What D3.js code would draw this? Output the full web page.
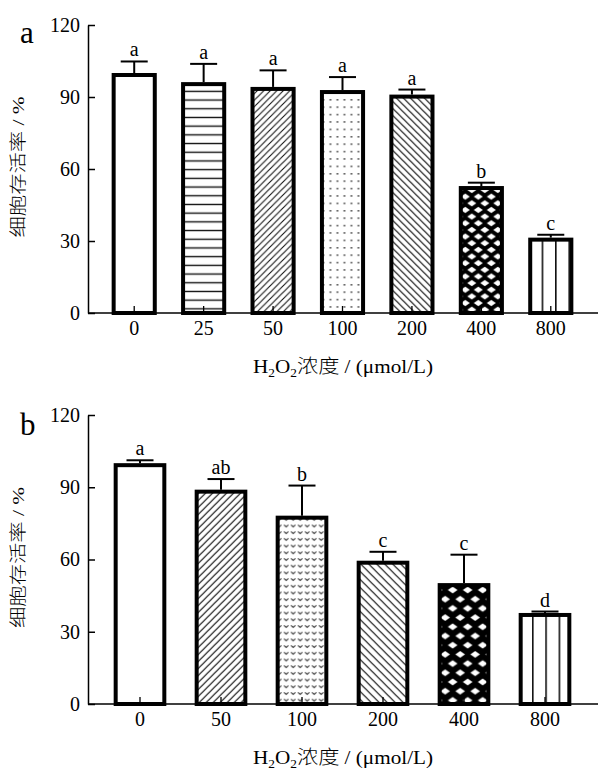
<!DOCTYPE html>
<html>
<head>
<meta charset="utf-8">
<script src="https://cdn.jsdelivr.net/npm/d3@7"></script>
<style>
  body { margin: 0; background: #fff; }
  svg { display: block; }
  .serif { font-family: "Liberation Serif", "Times New Roman", serif; }
  .cjk { font-family: "Noto Sans CJK SC", sans-serif; font-weight: 300; }
</style>
</head>
<body>
<div id="chart"></div>
<script>
// panel a: H2O2 concentrations
const catsA = ['0', '25', '50', '100', '200', '400', '800'];
const meansA = [100, 96.2, 94.2, 92.9, 91, 52.9, 31.4];
const sdsA = [4.8, 7.6, 6.9, 5.4, 2.1, 1.4, 1.2];
const lettersA = ['a', 'a', 'a', 'a', 'a', 'b', 'c'];
const fillsA = ['none', 'hline', 'fwd', 'dots', 'back', 'cross', 'vline'];

// panel b
const catsB = ['0', '50', '100', '200', '400', '800'];
const meansB = [100, 89, 78.2, 59.5, 50.2, 37.8];
const sdsB = [1.2, 4.4, 12.5, 3.7, 11.8, 0.6];
const lettersB = ['a', 'ab', 'b', 'c', 'c', 'd'];
const fillsB = ['none', 'fwd', 'chev', 'back', 'cross', 'vline'];

const yTicks = [0, 30, 60, 90, 120];

const W = 599, H = 771;
const axisX = 88;
const svg = d3.select('#chart').append('svg').attr('width', W).attr('height', H);
const defs = svg.append('defs');

function makePattern(id, kind, x0, opt) {
  const ink = '#111';
  let p;
  if (kind === 'hline') {
    p = defs.append('pattern').attr('id', id).attr('patternUnits', 'userSpaceOnUse')
      .attr('x', x0).attr('y', 0).attr('width', 10).attr('height', opt.gap);
    p.append('rect').attr('width', 10).attr('height', opt.gap).attr('fill', '#fff');
    p.append('line').attr('x1', 0).attr('x2', 10).attr('y1', opt.gap / 2).attr('y2', opt.gap / 2)
      .attr('stroke', ink).attr('stroke-width', 1.4);
  } else if (kind === 'fwd' || kind === 'back') {
    const g = opt.gap;
    p = defs.append('pattern').attr('id', id).attr('patternUnits', 'userSpaceOnUse')
      .attr('x', x0).attr('y', 0).attr('width', g).attr('height', g);
    p.append('rect').attr('width', g).attr('height', g).attr('fill', '#fff');
    const d = kind === 'fwd'
      ? `M0,${g}L${g},0M${-1},1L1,${-1}M${g - 1},${g + 1}L${g + 1},${g - 1}`
      : `M0,0L${g},${g}M${-1},${g - 1}L1,${g + 1}M${g - 1},${-1}L${g + 1},1`;
    p.append('path').attr('d', d).attr('stroke', ink).attr('stroke-width', opt.lw || 1.2);
  } else if (kind === 'dots') {
    p = defs.append('pattern').attr('id', id).attr('patternUnits', 'userSpaceOnUse')
      .attr('x', x0).attr('y', 0).attr('width', 7).attr('height', 7.4);
    p.append('rect').attr('width', 7).attr('height', 7.4).attr('fill', '#fff');
    p.append('rect').attr('x', 2.5).attr('y', 3).attr('width', 2).attr('height', 1.2).attr('fill', '#333');
  } else if (kind === 'chev') {
    p = defs.append('pattern').attr('id', id).attr('patternUnits', 'userSpaceOnUse')
      .attr('x', x0).attr('y', 0).attr('width', 7).attr('height', 6.7);
    p.append('rect').attr('width', 7).attr('height', 6.7).attr('fill', '#fff');
    p.append('path').attr('d', 'M1.3,2.3L3.5,4.3L5.7,2.3').attr('fill', 'none')
      .attr('stroke', '#333').attr('stroke-width', 1.1);
  } else if (kind === 'cross') {
    const w = opt.w, h = opt.h, dw = opt.dw, dh = opt.dh;
    p = defs.append('pattern').attr('id', id).attr('patternUnits', 'userSpaceOnUse')
      .attr('x', x0).attr('y', opt.y0).attr('width', w).attr('height', h);
    p.append('rect').attr('width', w).attr('height', h).attr('fill', '#000');
    const centers = [[0, 0], [w, 0], [0, h], [w, h], [w / 2, h / 2]];
    p.selectAll('path').data(centers).join('path')
      .attr('d', ([cx, cy]) => `M${cx - dw},${cy}L${cx},${cy - dh}L${cx + dw},${cy}L${cx},${cy + dh}Z`)
      .attr('fill', '#fff');
  } else if (kind === 'vline') {
    p = defs.append('pattern').attr('id', id).attr('patternUnits', 'userSpaceOnUse')
      .attr('x', x0).attr('y', 0).attr('width', opt.gap).attr('height', 10);
    p.append('rect').attr('width', opt.gap).attr('height', 10).attr('fill', '#fff');
    p.append('line').attr('x1', 0.8).attr('x2', 0.8).attr('y1', 0).attr('y2', 10)
      .attr('stroke', ink).attr('stroke-width', 1.6);
  }
  return `url(#${id})`;
}

function drawPanel(cfg) {
  const g = svg.append('g');
  const x = d3.scaleBand().domain(cfg.cats).range([99.5, 585.5]).paddingInner(0.35).paddingOuter(0.175);
  const y = d3.scaleLinear().domain([0, 120]).range(cfg.yRange);
  const sw = 4;
  const bw = x.bandwidth();

  cfg.cats.forEach((c, i) => {
    const bx = x(c);
    const kind = cfg.fills[i];
    const fill = kind === 'none' ? '#fff' : makePattern(`${cfg.key}-${i}`, kind, bx, cfg.opts[kind] || {});
    const top = y(cfg.means[i]);
    // error bar (upper only)
    const et = y(cfg.means[i] + cfg.sds[i]);
    const cx = bx + bw / 2;
    g.append('line').attr('x1', cx).attr('x2', cx).attr('y1', top).attr('y2', et)
      .attr('stroke', '#000').attr('stroke-width', 2);
    g.append('line').attr('x1', cx - 13.5).attr('x2', cx + 13.5).attr('y1', et).attr('y2', et)
      .attr('stroke', '#000').attr('stroke-width', 2);
    g.append('rect')
      .attr('x', bx + sw / 2).attr('y', top + sw / 2)
      .attr('width', bw - sw).attr('height', y(0) - top - sw / 2)
      .attr('fill', fill).attr('stroke', '#000').attr('stroke-width', sw);
    g.append('text').attr('class', 'serif').attr('x', cx).attr('y', et - 5)
      .attr('text-anchor', 'middle').attr('font-size', 20).text(cfg.letters[i]);
  });

  // y axis, ticks pointing inward
  const ya = g.append('g').attr('transform', `translate(${axisX},0)`)
    .call(d3.axisLeft(y).tickValues(yTicks).tickSizeInner(-7).tickSizeOuter(0).tickPadding(8));
  ya.selectAll('path,line').attr('stroke', '#000').attr('stroke-width', 1.5);
  ya.selectAll('text').attr('class', 'serif').attr('font-size', 20).attr('fill', '#000');

  // x axis, ticks pointing inward
  const xa = g.append('g').attr('transform', `translate(0,${y(0)})`)
    .call(d3.axisBottom(x).tickSizeInner(-7).tickSizeOuter(0).tickPadding(8));
  xa.select('.domain').remove();
  xa.selectAll('line').attr('stroke', '#000').attr('stroke-width', 1.3);
  xa.selectAll('text').attr('class', 'serif').attr('font-size', 20).attr('fill', '#000');
  g.append('line').attr('x1', axisX).attr('x2', W - 1).attr('y1', y(0)).attr('y2', y(0))
    .attr('stroke', '#000').attr('stroke-width', 1.5);

  // panel letter
  g.append('text').attr('class', 'serif').attr('x', 20).attr('y', cfg.labelY)
    .attr('font-size', 31).text(cfg.key);

  // y title
  const yMid = (y(0) + y(120)) / 2 - 2;
  const yt = g.append('text').attr('transform', `translate(24,${yMid}) rotate(-90)`)
    .attr('text-anchor', 'middle').attr('font-size', 17)
    .attr('textLength', 141).attr('lengthAdjust', 'spacingAndGlyphs');
  yt.append('tspan').attr('class', 'cjk').text('细胞存活率');
  yt.append('tspan').attr('class', 'serif').text(' / %');

  // x title
  const xt = g.append('text').attr('x', 343).attr('y', y(0) + 60)
    .attr('text-anchor', 'middle').attr('font-size', 19)
    .attr('textLength', 180).attr('lengthAdjust', 'spacingAndGlyphs');
  xt.append('tspan').attr('class', 'serif').text('H');
  xt.append('tspan').attr('class', 'serif').attr('font-size', 12).attr('dy', 4).text('2');
  xt.append('tspan').attr('class', 'serif').attr('dy', -4).text('O');
  xt.append('tspan').attr('class', 'serif').attr('font-size', 12).attr('dy', 4).text('2');
  xt.append('tspan').attr('class', 'cjk').attr('dy', -4).text('浓度');
  xt.append('tspan').attr('class', 'serif').text(' / (μmol/L)');
}

drawPanel({
  key: 'a', cats: catsA, means: meansA, sds: sdsA, letters: lettersA, fills: fillsA,
  yRange: [313, 25], labelY: 43,
  opts: { hline: { gap: 8.7 }, fwd: { gap: 6.5, lw: 1.1 }, back: { gap: 7 }, cross: { w: 13, h: 13.3, dw: 4.5, dh: 3.2, y0: 190 }, vline: { gap: 13.4 } }
});

drawPanel({
  key: 'b', cats: catsB, means: meansB, sds: sdsB, letters: lettersB, fills: fillsB,
  yRange: [704, 415], labelY: 435,
  opts: { fwd: { gap: 7 }, back: { gap: 8 }, cross: { w: 15, h: 18.4, dw: 4.8, dh: 3.4, y0: 590 }, vline: { gap: 13.3 } }
});
</script>
</body>
</html>
